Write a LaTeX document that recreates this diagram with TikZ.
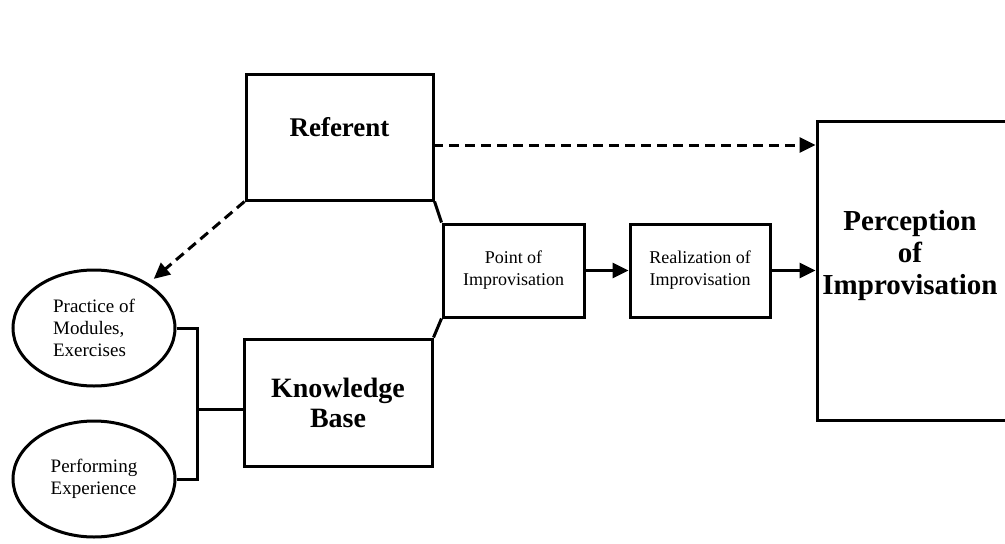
\documentclass[tikz,border=0pt]{standalone}
\usepackage{fontspec}
\setmainfont{Liberation Serif}
\usetikzlibrary{arrows.meta,shapes.geometric}
\begin{document}
\begin{tikzpicture}[x=1pt,y=-1pt,line width=3pt,
  box/.style={draw,rectangle,inner sep=0pt},
  oval/.style={draw,ellipse,inner sep=0pt,minimum width=162pt,minimum height=116pt,align=left,font=\fontsize{19}{22}\selectfont},
  small/.style={align=center,font=\fontsize{18}{22}\selectfont},
  big/.style={align=center,font=\bfseries\fontsize{28}{30}\selectfont},
  arr/.style={-{Triangle[length=16pt,width=15pt]}},
  dsh/.style={dash pattern=on 10pt off 6pt}]
\useasboundingbox (0,0) rectangle (1005,544);
% boxes
\node[box,minimum width=187pt,minimum height=126pt] (ref) at (339.5,137) {};
\node[big,font=\bfseries\fontsize{27}{30}\selectfont] (reft) at (339.5,127) {Referent};
\node[box,big,minimum width=188pt,minimum height=127pt] (kb) at (338,402.5) {Knowledge\\Base};
\node[box,small,minimum width=141pt,minimum height=93pt] (pt) at (513.5,270.5) {Point of\\Improvisation};
\node[box,small,minimum width=140pt,minimum height=93pt] (rz) at (700,270.5) {Realization of\\Improvisation};
\node[box,minimum width=196pt,minimum height=299pt] (perc) at (915,270.5) {};
\node[big,font=\bfseries\fontsize{29}{32}\selectfont] (perct) at (910,256) {Perception\\of\\Improvisation};
% ellipses
\node[oval] (e1) at (94,328) {Practice of\\Modules,\\Exercises};
\node[oval] (e2) at (94,479) {Performing\\Experience};
% bracket
\coordinate (j) at (197,409);
\draw (e1.east) -| (j) |- (e2.east);
\draw (j) -- (kb.west |- j);
% diagonal joins
\draw (ref.south east) -- (pt.north west);
\draw (kb.north east) -- (pt.south west);
% arrows
\coordinate (ds) at (433,145);
\draw[arr] (pt.east) -- (rz.west);
\draw[arr] (rz.east) -- (perc.west |- rz.east);
\draw[arr,dsh] (ds) -- (perc.west |- ds);
\draw[arr,dsh] (ref.south west) -- ([shift={(6pt,4pt)}]e1.40);
\end{tikzpicture}
\end{document}
